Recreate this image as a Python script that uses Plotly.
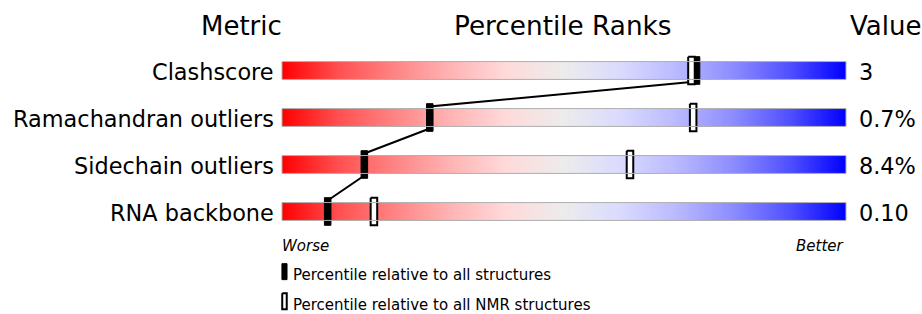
import numpy as np
import plotly.graph_objects as go

# ---- data ----
metrics = ["Clashscore", "Ramachandran outliers", "Sidechain outliers", "RNA backbone"]
values = ["3", "0.7%", "8.4%", "0.10"]
pct_all = [73.5, 26.2, 14.6, 8.1]      # percentile relative to all structures
pct_nmr = [72.6, 72.9, 61.7, 16.3]     # percentile relative to all NMR structures
headers = ["Metric", "Percentile Ranks", "Value"]
legend_labels = ["Percentile relative to all structures",
                 "Percentile relative to all NMR structures"]

FONT = "DejaVu Sans"
rows = list(range(len(metrics)))
BAR_H = 0.19      # half height of gradient bar (row units)
MK_W = 0.58       # half width of slider marker (percentile units)
MK_H = 0.294      # half height of slider marker (row units)
LINE_OFF = 0.234
TXT_DY = 0.04     # small vertical nudge for text baselines

fig = go.Figure()

# gradient bars
edges = np.linspace(0, 100, 401)
centers = (edges[:-1] + edges[1:]) / 2
cscale = [[0.0, "rgb(255,0,0)"], [0.1, "rgb(255,80,80)"], [0.2, "rgb(255,132,132)"],
          [0.3, "rgb(255,180,180)"], [0.4, "rgb(255,218,218)"], [0.5, "rgb(236,236,236)"],
          [0.6, "rgb(218,218,255)"], [0.7, "rgb(185,185,255)"], [0.8, "rgb(140,140,255)"],
          [0.9, "rgb(80,80,255)"], [1.0, "rgb(0,0,255)"]]
for r in rows:
    fig.add_trace(go.Heatmap(x=edges, y=[r - BAR_H, r + BAR_H], z=[centers],
                             colorscale=cscale, zmin=0, zmax=100,
                             showscale=False, hoverinfo="skip"))
    fig.add_shape(type="rect", x0=0, x1=100, y0=r - BAR_H, y1=r + BAR_H,
                  line=dict(color="rgb(175,175,175)", width=1), layer="above")

# connector line through the "all structures" markers
lx, ly = [], []
for r, p in zip(rows, pct_all):
    lx += [p, p]
    ly += [r - LINE_OFF, r + LINE_OFF]
lx, ly = lx[1:-1], ly[1:-1]
fig.add_trace(go.Scatter(x=lx, y=ly, mode="lines",
                         line=dict(color="black", width=2), hoverinfo="skip"))


def rect_path(xs, ys, hw, hh):
    px, py = [], []
    for x, y in zip(xs, ys):
        px += [x - hw, x + hw, x + hw, x - hw, x - hw, None]
        py += [y - hh, y - hh, y + hh, y + hh, y - hh, None]
    return px, py


# filled markers (all structures)
px, py = rect_path(pct_all, rows, MK_W, MK_H)
fig.add_trace(go.Scatter(x=px, y=py, mode="lines", fill="toself",
                         fillcolor="black", line=dict(color="black", width=1),
                         hoverinfo="skip"))
# open markers (NMR structures)
px, py = rect_path(pct_nmr, rows, MK_W, MK_H)
fig.add_trace(go.Scatter(x=px, y=py, mode="lines", fill="toself",
                         fillcolor="white", line=dict(color="black", width=2),
                         hoverinfo="skip"))

# legend markers
LEG_Y = [4.28, 4.91]
LEG_X = 0.44
px, py = rect_path([LEG_X], [LEG_Y[0]], 0.45, 0.17)
fig.add_trace(go.Scatter(x=px, y=py, mode="lines", fill="toself",
                         fillcolor="black", line=dict(color="black", width=1),
                         hoverinfo="skip"))
px, py = rect_path([LEG_X], [LEG_Y[1]], 0.4, 0.17)
fig.add_trace(go.Scatter(x=px, y=py, mode="lines", fill="toself",
                         fillcolor="white", line=dict(color="black", width=2),
                         hoverinfo="skip"))

ann = []
for r, m, v in zip(rows, metrics, values):
    ann.append(dict(x=-1.1, y=r + TXT_DY, text=m, xanchor="right", font=dict(size=22.4)))
    ann.append(dict(x=102.0, y=r + TXT_DY, text=v, xanchor="left", font=dict(size=22.4)))
ann.append(dict(x=-7.1, y=-0.95, text=headers[0], xanchor="center", font=dict(size=26)))
ann.append(dict(x=49.8, y=-0.95, text=headers[1], xanchor="center", font=dict(size=26.3)))
ann.append(dict(x=107, y=-0.95, text=headers[2], xanchor="center", font=dict(size=26)))
ann.append(dict(x=-0.3, y=3.73, text="<i>Worse</i>", xanchor="left", font=dict(size=15)))
ann.append(dict(x=100, y=3.73, text="<i>Better</i>", xanchor="right", font=dict(size=15)))
for ly_, lab in zip(LEG_Y, legend_labels):
    ann.append(dict(x=1.55, y=ly_ + 0.07, text=lab, xanchor="left", font=dict(size=15)))
for a in ann:
    a.update(xref="x", yref="y", showarrow=False, yanchor="middle")
    a["font"].update(family=FONT, color="black")

fig.update_layout(
    width=922, height=314, autosize=False,
    margin=dict(l=0, r=0, t=0, b=0, pad=0),
    paper_bgcolor="white", plot_bgcolor="white",
    showlegend=False,
    xaxis=dict(range=[-50, 113.475], visible=False, fixedrange=True),
    yaxis=dict(range=[5.181, -1.5], visible=False, fixedrange=True),
    annotations=ann,
    font=dict(family=FONT, color="black"),
)

fig.write_html("out.html",
               config={"displayModeBar": False, "staticPlot": True},
               post_script="document.body.style.margin='0';document.body.style.overflow='hidden';")
